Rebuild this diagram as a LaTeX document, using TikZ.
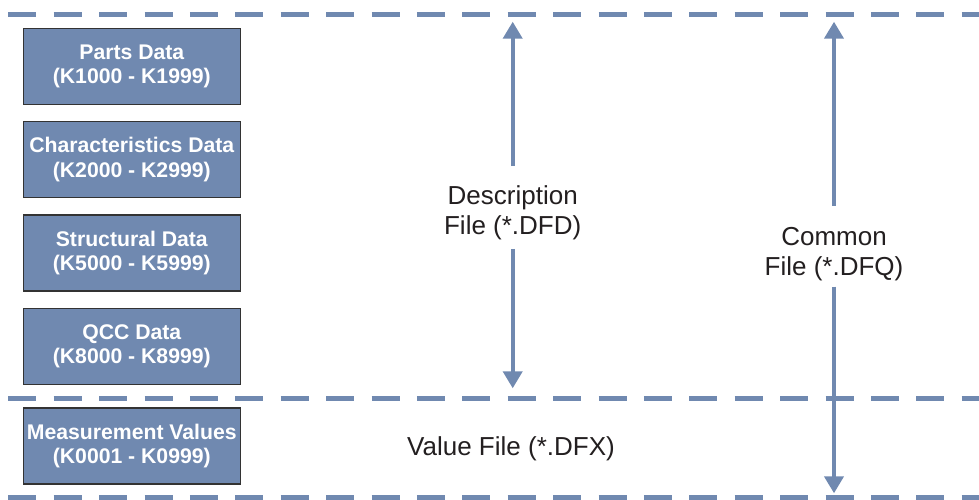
\documentclass[tikz,border=0pt]{standalone}
\usepackage{fontspec}
\setmainfont{Liberation Sans}
\usetikzlibrary{arrows.meta}
\definecolor{fileblue}{RGB}{112,137,176}
\definecolor{textgray}{RGB}{35,31,32}
\tikzset{
	databox/.style={draw=black!80, line width=1.3pt, fill=fileblue, text=white, minimum width=217pt, minimum height=76pt, inner sep=0pt, align=center, font=\fontsize{21.2}{24.5}\selectfont\bfseries},
	filetext/.style={fill=white, text=textgray, align=center, inner xsep=4pt, font=\fontsize{26}{29.5}\selectfont},
	sepline/.style={fileblue, line width=5pt, dash pattern=on 28pt off 17.4pt},
	filearrow/.style={fileblue, line width=4pt, -{Triangle[length=17pt,width=19pt]}}
}

\begin{document}
\begin{tikzpicture}[x=1pt, y=-1pt]
			%%%%% START %%%%%
			\useasboundingbox (0, 0) rectangle (979, 500);
			
			\draw[sepline] (8.3, 14.5) -- (979, 14.5);
			\draw[sepline] (8.3, 398.5) -- (979, 398.5);
			\draw[sepline] (8.3, 497.5) -- (979, 497.5);
			
			\node[databox] (parts) at (131.8, 66.3) {Parts Data\\(K1000 - K1999)};
			\node[databox] (chars) at (131.8, 159.6) {Characteristics Data\\(K2000 - K2999)};
			\node[databox] (struct) at (131.8, 252.9) {Structural Data\\(K5000 - K5999)};
			\node[databox] (qcc) at (131.8, 346.2) {QCC Data\\(K8000 - K8999)};
			\node[databox] (meas) at (131.8, 446) {Measurement Values\\(K0001 - K0999)};
			
			\coordinate (dfdtop) at (512.7, 21.7);
			\coordinate (dfdbot) at (512.7, 388.3);
			\coordinate (dfqtop) at (834, 21.7);
			\coordinate (dfqbot) at (834, 493.3);
			
			\node[filetext, inner ysep=8.7pt] (dfd) at (512.7, 213) {Description\\File (*.DFD)};
			\draw[filearrow, shorten <=11pt] (dfd) -- (dfdtop);
			\draw[filearrow] (dfd) -- (dfdbot);
			
			\node[filetext, inner ysep=6pt] (dfq) at (834, 254) {Common\\File (*.DFQ)};
			\draw[filearrow, shorten <=15.6pt] (dfq) -- (dfqtop);
			\draw[filearrow] (dfq) -- (dfqbot);
			
			\node[filetext] (dfx) at (511, 448.5) {Value File (*.DFX)};
			%%%%% END %%%%%
\end{tikzpicture}
\end{document}
